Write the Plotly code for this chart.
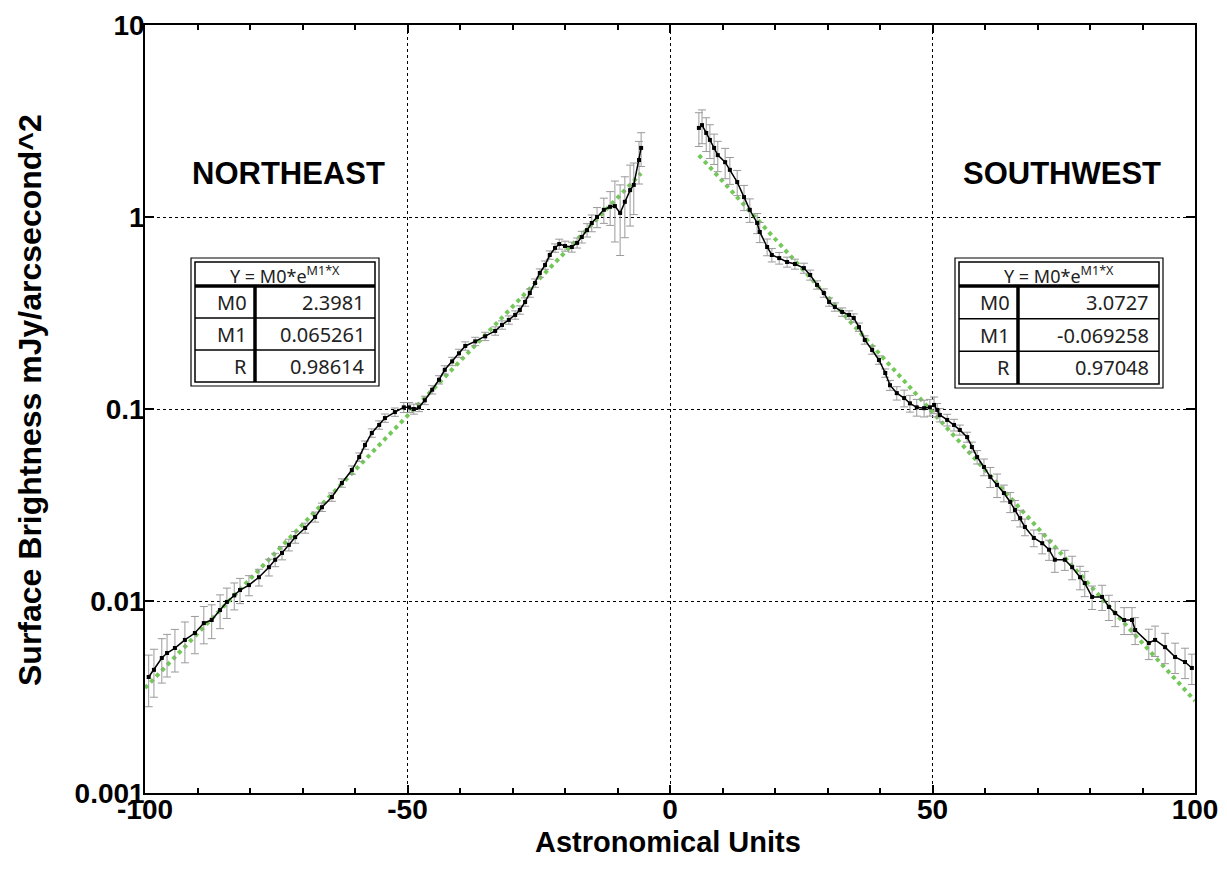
import plotly.graph_objects as go

# ---------------- data ----------------
ne_x = [-99.3, -98.3, -96.8, -95.8, -94.3, -92.4, -90.5, -88.8, -87.3, -85.7, -84.4, -83.0, -81.9, -80.2,
        -78.3, -76.4, -75.2, -73.9, -72.6, -71.4, -69.5, -67.6, -66.3, -64.4, -62.5, -60.6, -59.2, -58.1,
        -56.8, -55.4, -54.3, -52.4, -50.7, -49.7, -48.8, -47.8, -46.7, -45.3, -44.0, -42.9, -41.5, -40.2,
        -39.0, -37.1, -35.2, -33.3, -32.0, -30.7, -29.5, -28.6, -27.6, -26.7, -25.7, -24.8, -23.8, -22.9,
        -21.9, -21.1, -20.0, -18.7, -17.7, -16.8, -15.8, -14.9, -13.9, -12.6, -11.4, -10.5, -9.5, -8.6,
        -7.6, -6.9, -5.9, -5.5]
ne_y = [0.00402, 0.00438, 0.00505, 0.00536, 0.00569, 0.00627, 0.00681, 0.00767, 0.00796, 0.00897, 0.00989,
        0.0107, 0.0114, 0.0121, 0.0133, 0.0150, 0.0164, 0.0178, 0.0196, 0.0215, 0.0240, 0.0274, 0.0308,
        0.0348, 0.0412, 0.0481, 0.0562, 0.0649, 0.0750, 0.0826, 0.0897, 0.0964, 0.102, 0.102, 0.100, 0.102,
        0.111, 0.126, 0.142, 0.160, 0.177, 0.195, 0.213, 0.225, 0.239, 0.255, 0.274, 0.291, 0.309, 0.328,
        0.361, 0.402, 0.453, 0.511, 0.562, 0.634, 0.690, 0.723, 0.706, 0.698, 0.733, 0.787, 0.855, 0.931,
        1.00, 1.09, 1.13, 1.14, 1.05, 1.20, 1.38, 1.47, 1.98, 2.29]
ne_err_frac = [0.30, 0.28, 0.26, 0.25, 0.25, 0.24, 0.22, 0.22, 0.20, 0.20, 0.18, 0.16, 0.15, 0.12,
               0.10, 0.10, 0.08, 0.08, 0.07, 0.07, 0.06, 0.06, 0.05, 0.05, 0.05, 0.05, 0.05, 0.05,
               0.05, 0.05, 0.05, 0.05, 0.06, 0.06, 0.06, 0.05, 0.05, 0.05, 0.05, 0.05, 0.05, 0.05,
               0.05, 0.05, 0.05, 0.05, 0.05, 0.05, 0.05, 0.05, 0.05, 0.05, 0.05, 0.05, 0.05, 0.05,
               0.05, 0.06, 0.06, 0.06, 0.06, 0.07, 0.08, 0.10, 0.12, 0.15, 0.20, 0.35, 0.40, 0.35,
               0.35, 0.30, 0.25, 0.20]

sw_x = [5.5, 6.1, 6.9, 7.6, 8.4, 9.1, 10.5, 11.4, 12.8, 14.1, 15.2, 16.6, 17.1, 18.5, 19.4, 20.8, 22.3,
        23.8, 25.5, 26.7, 28.0, 29.3, 30.3, 31.4, 32.8, 34.1, 35.0, 36.0, 37.1, 38.5, 39.8, 41.0, 41.9,
        43.2, 44.6, 45.7, 47.0, 48.4, 49.5, 50.3, 50.9, 51.4, 52.8, 54.1, 55.2, 56.6, 57.5, 58.5, 59.8,
        61.0, 62.3, 63.6, 64.8, 65.7, 66.7, 67.6, 69.3, 70.9, 72.2, 73.3, 75.2, 76.6, 78.1, 79.0, 80.4,
        82.3, 83.6, 84.8, 86.5, 88.0, 88.6, 91.2, 92.4, 94.3, 96.2, 98.1, 99.4]
sw_y = [2.91, 3.01, 2.74, 2.52, 2.29, 2.10, 1.93, 1.76, 1.52, 1.27, 1.09, 0.931, 0.836, 0.698, 0.634,
        0.611, 0.583, 0.569, 0.542, 0.499, 0.443, 0.402, 0.361, 0.340, 0.320, 0.309, 0.298, 0.267, 0.229,
        0.203, 0.180, 0.154, 0.133, 0.121, 0.114, 0.107, 0.102, 0.101, 0.102, 0.105, 0.0989, 0.0931,
        0.0877, 0.0826, 0.0778, 0.0714, 0.0634, 0.0562, 0.0499, 0.0443, 0.0402, 0.0365, 0.0328, 0.0298,
        0.0270, 0.0243, 0.0213, 0.0200, 0.0185, 0.0164, 0.0164, 0.0150, 0.0133, 0.0124, 0.0105, 0.0105,
        0.00931, 0.00865, 0.00796, 0.00796, 0.00706, 0.00604, 0.00627, 0.00575, 0.00511, 0.00481, 0.00448]
sw_err_frac = [0.20, 0.20, 0.20, 0.20, 0.18, 0.18, 0.18, 0.16, 0.15, 0.15, 0.14, 0.12, 0.12, 0.10, 0.08,
               0.07, 0.06, 0.06, 0.06, 0.06, 0.05, 0.05, 0.05, 0.05, 0.05, 0.05, 0.05, 0.05, 0.05,
               0.05, 0.05, 0.05, 0.06, 0.08, 0.10, 0.10, 0.10, 0.10, 0.10, 0.10, 0.08, 0.08,
               0.07, 0.07, 0.06, 0.06, 0.06, 0.08, 0.10, 0.12, 0.14, 0.10, 0.12, 0.12, 0.10,
               0.10, 0.10, 0.12, 0.12, 0.14, 0.12, 0.14, 0.14, 0.15, 0.14, 0.15, 0.15, 0.15,
               0.16, 0.16, 0.16, 0.18, 0.18, 0.18, 0.18, 0.18, 0.18]

# exponential fit lines (straight on log axis), endpoints
fit_ne_x = [-100, -5.5]
fit_ne_y = [0.00352, 1.69]
fit_sw_x = [5.5, 100]
fit_sw_y = [2.10, 0.00302]

ne_table = [("M0", "2.3981"), ("M1", "0.065261"), ("R", "0.98614")]
sw_table = [("M0", "3.0727"), ("M1", "-0.069258"), ("R", "0.97048")]

x_ticks = [-100, -50, 0, 50, 100]
y_ticks = [0.001, 0.01, 0.1, 1, 10]
y_ticktext = ["0.001", "0.01", "0.1", "1", "10"]

x_title = "Astronomical Units"
y_title = "Surface Brightness mJy/arcsecond^2"

# ---------------- figure ----------------
OFF = 8                       # page body margin in the browser
W, H = 1227 - OFF, 872 - OFF
L, R, T, B = 145, 1195, 25, 793   # plot area in screen pixels

def px(x):
    return (x - L) / (R - L)

def py(y):
    return (B - y) / (B - T)

GREEN = "#74c85a"
TFONT = "Noto Sans, DejaVu Sans, sans-serif"
fig = go.Figure()

for fx, fy in ((fit_ne_x, fit_ne_y), (fit_sw_x, fit_sw_y)):
    fig.add_trace(go.Scatter(x=fx, y=fy, mode="lines",
                             line=dict(color=GREEN, width=4, dash="4px,4px"),
                             showlegend=False, hoverinfo="skip"))

for dx, dy, de in ((ne_x, ne_y, ne_err_frac), (sw_x, sw_y, sw_err_frac)):
    err = [v * f for v, f in zip(dy, de)]
    fig.add_trace(go.Scatter(x=dx, y=dy, mode="lines+markers",
                             line=dict(color="black", width=1.5),
                             marker=dict(color="black", size=4, symbol="square"),
                             error_y=dict(type="data", array=err, visible=True,
                                          color="#9a9a9a", thickness=1, width=4),
                             showlegend=False))

fig.update_layout(
    width=W, height=H,
    margin=dict(l=L - OFF, r=W - (R - OFF), t=T - OFF, b=H - (B - OFF), autoexpand=False),
    plot_bgcolor="white", paper_bgcolor="white",
    font=dict(family="Liberation Sans, Arial, sans-serif", color="black"),
)

fig.update_xaxes(
    range=[-100, 100], tickvals=x_ticks, ticktext=[str(v) for v in x_ticks],
    tickfont=dict(size=28, weight="bold"), automargin=False, ticklabelstandoff=-9,
    showline=True, linecolor="black", linewidth=1.5, mirror="ticks",
    showgrid=True, gridcolor="black", gridwidth=1, griddash="dot", zeroline=False,
    ticks="inside", ticklen=8, tickwidth=2, tickcolor="black",
    minor=dict(dtick=10, tick0=0, ticks="inside", ticklen=5, tickwidth=1.5, tickcolor="black", showgrid=False),
)
fig.update_yaxes(
    type="log", range=[-3, 1], tickvals=y_ticks, ticktext=y_ticktext,
    tickfont=dict(size=28, weight="bold"), automargin=False, ticklabelstandoff=-7,
    showline=True, linecolor="black", linewidth=1.5, mirror="ticks",
    showgrid=True, gridcolor="black", gridwidth=1, griddash="dot", zeroline=False,
    ticks="inside", ticklen=9, tickwidth=2, tickcolor="black",
)

# axis titles
fig.add_annotation(x=px(668), y=py(842), xref="paper", yref="paper", text="<b>%s</b>" % x_title,
                   showarrow=False, font=dict(size=29), xanchor="center", yanchor="middle")
fig.add_annotation(x=px(30), y=py(400), xref="paper", yref="paper", text="<b>%s</b>" % y_title,
                   showarrow=False, font=dict(size=32), textangle=-90, xanchor="center", yanchor="middle")

# region labels (log axis -> annotation y given as log10)
fig.add_annotation(x=-72.6, y=0.229, xref="x", yref="y", text="<b>NORTHEAST</b>",
                   showarrow=False, font=dict(size=31))
fig.add_annotation(x=74.7, y=0.229, xref="x", yref="y", text="<b>SOUTHWEST</b>",
                   showarrow=False, font=dict(size=31))

# fit tables drawn as shapes + text
def draw_table(left, right, top, bottom, divx, rows):
    def rect(x0, y0, x1, y1, w):
        fig.add_shape(type="rect", xref="paper", yref="paper",
                      x0=px(x0), x1=px(x1), y0=py(y1), y1=py(y0),
                      line=dict(color="black", width=w), fillcolor="white", layer="above")
    def line(x0, y0, x1, y1, w):
        fig.add_shape(type="line", xref="paper", yref="paper",
                      x0=px(x0), x1=px(x1), y0=py(y0), y1=py(y1),
                      line=dict(color="black", width=w), layer="above")
    rect(left, top, right, bottom, 1.2)
    rect(left + 4, top + 4, right - 4, bottom - 4, 1.5)
    head_b = top + 28
    row_h = (bottom - 4 - head_b) / 3
    line(left + 4, head_b, right - 4, head_b, 3.5)
    for i in range(1, 3):
        yy = head_b + i * row_h
        line(left + 4, yy, right - 4, yy, 1.5)
    line(divx, head_b, divx, bottom - 4, 3.5)
    fig.add_annotation(x=px((left + right) / 2), y=py(top + 4 + (head_b - top - 4) / 2 + 1), xref="paper", yref="paper",
                       text="Y = M0*e<sup>M1*X</sup>", showarrow=False,
                       font=dict(family=TFONT, size=18, color="#222"),
                       xanchor="center", yanchor="middle")
    for i, (lab, val) in enumerate(rows):
        yc = head_b + (i + 0.5) * row_h
        fig.add_annotation(x=px(divx - 6), y=py(yc), xref="paper", yref="paper", text=lab,
                           showarrow=False, xanchor="right", yanchor="middle",
                           font=dict(family=TFONT, size=20, color="#222"))
        fig.add_annotation(x=px(right - 12), y=py(yc), xref="paper", yref="paper", text=val,
                           showarrow=False, xanchor="right", yanchor="middle",
                           font=dict(family=TFONT, size=20, color="#222"))

draw_table(191, 379, 258, 386, 255, ne_table)
draw_table(955, 1163, 258, 388, 1018, sw_table)

fig.write_html("out.html")
